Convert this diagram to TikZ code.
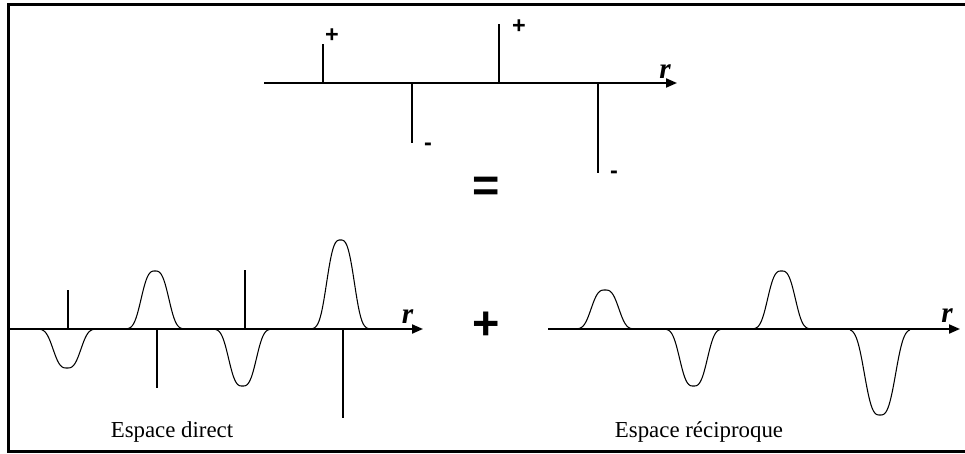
\documentclass[tikz,border=0pt]{standalone}
\usepackage{fontspec}
\setmainfont{Liberation Serif}
\newfontfamily\signfont{Liberation Sans}
\usetikzlibrary{arrows.meta}

\begin{document}
\begin{tikzpicture}[x=0.03cm, y=-0.03cm,
  axis/.style={line width=1.7pt, -{Triangle[length=0.33cm, width=0.27cm]}},
  spike/.style={line width=1.1pt},
  bump/.style={line width=0.9pt},
  frame/.style={line width=1.8pt},
  sign/.style={font=\signfont\bfseries\fontsize{20}{20}\selectfont, inner sep=0pt},
  bigsign/.style={font=\signfont\bfseries\fontsize{40}{40}\selectfont, inner sep=0pt},
  rlabel/.style={font=\bfseries\itshape\fontsize{25}{25}\selectfont, inner sep=0pt},
  caption/.style={font=\fontsize{19.5}{19.5}\selectfont, inner sep=0pt, anchor=base}]
\useasboundingbox (0,0) rectangle (965,453);
\draw[frame] (966,4.5) -- (8.5,4.5) -- (8.5,451.5) -- (966,451.5);

% top: point charges
\coordinate (topstart) at (264,83);
\coordinate (topend) at (677,83);
\draw[axis] (topstart) -- (topend);
\draw[spike] (323,83) -- (323,44);
\draw[spike] (412,83) -- (412,143);
\draw[spike] (499,83) -- (499,24);
\draw[spike] (598,83) -- (598,173);
\node[sign] (p1) at (332,36) {+};
\node[sign] (p2) at (519,27) {+};
\node[sign] (m1) at (428,147) {-};
\node[sign] (m2) at (614,175) {-};
\node[rlabel] (rtop) at (665,72) {r};
\node[bigsign] (equal) at (486.5,189) {=};

% bottom left: direct space
\coordinate (dirstart) at (9,329);
\coordinate (dirend) at (423,329);
\draw[axis] (dirstart) -- (dirend);
\draw[spike] (68,329) -- (68,290);
\draw[spike] (157,329) -- (157,388);
\draw[spike] (245,329) -- (245,270);
\draw[spike] (343,329) -- (343,418);
\foreach \c/\h/\w/\s in {67/-39/29/16, 155/58/38/16, 242.5/-57/29/16, 340.5/89/38/16}
  \draw[bump] plot[domain=-\w:\w, samples=61] ({\c+\x}, {329-\h*exp(-(abs(\x)/\s)^3)});
\node[rlabel] (rdir) at (407.5,317) {r};
\node[caption] (direct) at (172,437) {Espace direct};

\node[bigsign] (plus) at (486.5,326) {+};

% bottom right: reciprocal space
\coordinate (recstart) at (548,329);
\coordinate (recend) at (960,329);
\draw[axis] (recstart) -- (recend);
\foreach \c/\h/\w/\s in {605/39/38/16, 693.5/-57/29/16, 781.5/58/38/16, 880/-86/30/18}
  \draw[bump] plot[domain=-\w:\w, samples=61] ({\c+\x}, {329-\h*exp(-(abs(\x)/\s)^3)});
\node[rlabel] (rrec) at (947,316) {r};
\node[caption] (reciproque) at (699,437) {Espace réciproque};
\end{tikzpicture}
\end{document}
